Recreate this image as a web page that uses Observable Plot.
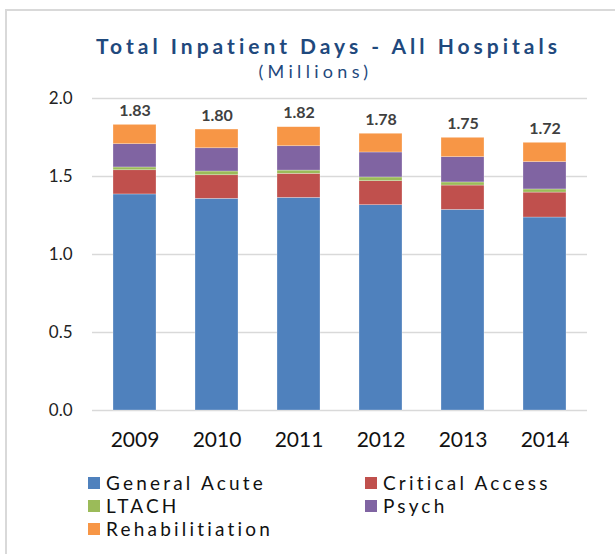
<!DOCTYPE html>
<html>
<head>
<meta charset="utf-8">
<script src="https://cdn.jsdelivr.net/npm/d3@7"></script>
<script src="https://cdn.jsdelivr.net/npm/@observablehq/plot@0.6"></script>
<style>
  html, body { margin: 0; padding: 0; background: #fff; }
  body { width: 615px; height: 554px; position: relative; overflow: hidden; font-family: Lato, "Open Sans", sans-serif; }
  .frame { position: absolute; left: 5px; top: 9px; width: 700px; height: 700px; border: 2px solid #d9d9d9; box-sizing: border-box; }
  .title { position: absolute; left: 0; width: 657px; top: 35px; text-align: center; font-size: 21px; line-height: 21px; font-weight: bold; letter-spacing: 4px; color: #1F497D; white-space: nowrap; }
  .subtitle { position: absolute; left: 0; width: 631px; top: 62px; text-align: center; font-size: 18px; line-height: 18px; letter-spacing: 4.3px; color: #1F497D; white-space: nowrap; }
  #chart { position: absolute; left: 0; top: 0; }
  .legend { position: absolute; font-size: 19px; letter-spacing: 3.2px; color: #111; white-space: nowrap; line-height: 23px; }
  .legend .item { position: absolute; display: flex; align-items: center; }
  .legend .sw { width: 12px; height: 12px; margin-right: 6px; flex: none; }
</style>
</head>
<body>
<div class="frame"></div>
<div class="title">Total Inpatient Days - All Hospitals</div>
<div class="subtitle">(Millions)</div>
<div id="chart"></div>
<div class="legend" id="legend"></div>
<script>
const years = ["2009", "2010", "2011", "2012", "2013", "2014"];
const seriesNames = ["General Acute", "Critical Access", "LTACH", "Psych", "Rehabilitiation"];
const seriesColors = ["#4F81BD", "#C0504D", "#9BBB59", "#8064A2", "#F79646"];
const generalAcute   = [1.385, 1.357, 1.363, 1.316, 1.286, 1.237];
const criticalAccess = [0.155, 0.151, 0.154, 0.154, 0.156, 0.160];
const ltach          = [0.018, 0.024, 0.021, 0.024, 0.020, 0.020];
const psych          = [0.149, 0.149, 0.156, 0.160, 0.162, 0.175];
const rehab          = [0.124, 0.120, 0.122, 0.120, 0.124, 0.124];
const totalLabels    = ["1.83", "1.80", "1.82", "1.78", "1.75", "1.72"];
const yTicks = [0, 0.5, 1.0, 1.5, 2.0];

const seriesValues = [generalAcute, criticalAccess, ltach, psych, rehab];
const rows = [];
seriesNames.forEach((s, si) => {
  years.forEach((y, yi) => rows.push({year: y, series: s, value: seriesValues[si][yi]}));
});
const totals = years.map((y, yi) => ({
  year: y,
  total: seriesValues.reduce((a, arr) => a + arr[yi], 0),
  label: totalLabels[yi]
}));

const chart = Plot.plot({
  width: 615,
  height: 460,
  marginTop: 98,
  marginBottom: 50,
  marginLeft: 92,
  marginRight: 28,
  style: {fontFamily: "Lato, 'Open Sans', sans-serif", background: "transparent", overflow: "visible"},
  x: {domain: years, paddingInner: 0.48, paddingOuter: 0.24, label: null},
  y: {domain: [0, 2], label: null},
  color: {domain: seriesNames, range: seriesColors},
  marks: [
    Plot.ruleY(yTicks, {stroke: "#d9d9d9", strokeWidth: 1.6}),
    Plot.barY(rows, Plot.stackY({x: "year", y: "value", fill: "series", stroke: "#ffffff", strokeOpacity: 0.45, strokeWidth: 0.6})),
    Plot.text(totals, {x: "year", y: "total", text: "label", lineAnchor: "bottom", dy: -9, fontSize: 16, fontWeight: "bold", fill: "#404040"}),
    Plot.axisY({ticks: yTicks, tickFormat: d3.format(".1f"), tickSize: 0, tickPadding: 20, fontSize: 17, fill: "#222", label: null}),
    Plot.axisX({tickSize: 0, tickPadding: 22, fontSize: 21, fill: "#111", label: null})
  ]
});
document.getElementById("chart").appendChild(chart);

const legendPos = [
  [88, 471], [365, 471],
  [88, 494], [365, 494],
  [88, 517]
];
const legend = document.getElementById("legend");
seriesNames.forEach((s, i) => {
  const it = document.createElement("div");
  it.className = "item";
  it.style.left = legendPos[i][0] + "px";
  it.style.top = legendPos[i][1] + "px";
  const sw = document.createElement("div");
  sw.className = "sw";
  sw.style.background = seriesColors[i];
  const tx = document.createElement("span");
  tx.textContent = s;
  it.appendChild(sw);
  it.appendChild(tx);
  legend.appendChild(it);
});
</script>
</body>
</html>
